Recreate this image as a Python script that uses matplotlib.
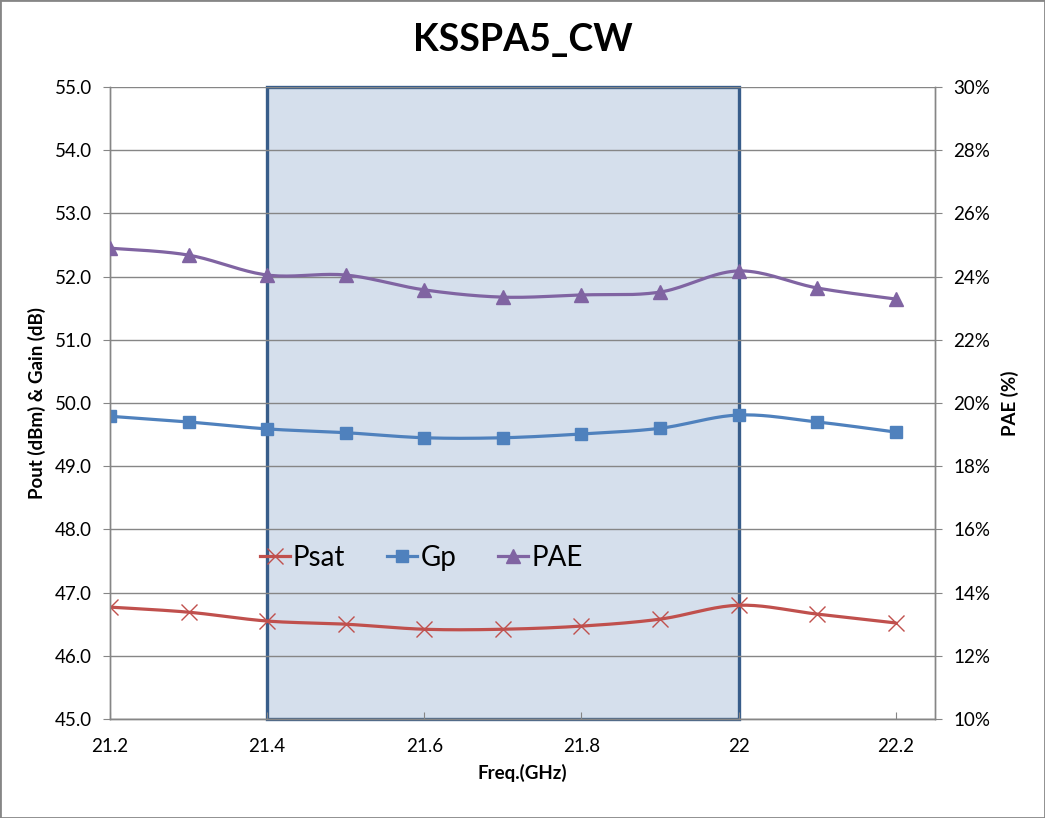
import numpy as np
import matplotlib
matplotlib.use("Agg")
import matplotlib.pyplot as plt
from matplotlib.patches import Rectangle
from matplotlib.lines import Line2D

freq = [21.2, 21.3, 21.4, 21.5, 21.6, 21.7, 21.8, 21.9, 22.0, 22.1, 22.2]
psat = [46.77, 46.69, 46.55, 46.50, 46.42, 46.42, 46.47, 46.58, 46.80, 46.66, 46.52]
gp = [49.79, 49.70, 49.59, 49.53, 49.45, 49.45, 49.51, 49.60, 49.81, 49.70, 49.54]
pae = [24.90, 24.68, 24.05, 24.05, 23.58, 23.35, 23.42, 23.51, 24.18, 23.64, 23.29]
band = (21.4, 22.0)
xticks = [21.2, 21.4, 21.6, 21.8, 22.0, 22.2]
xticklabels = ["21.2", "21.4", "21.6", "21.8", "22", "22.2"]

FONT = "Lato"
plt.rcParams["font.family"] = [FONT, "DejaVu Sans"]
GRID = "#868686"
RED, BLUE, PURPLE = "#C0504D", "#4F81BD", "#8064A2"


def smooth(xs, ys, n=20):
    """Catmull-Rom curve through the points, roughly like Excel's smoothed line."""
    p = np.column_stack([xs, ys]).astype(float)
    p = np.vstack([p[0], p, p[-1]])
    out = []
    t = np.linspace(0, 1, n, endpoint=False)[:, None]
    for i in range(1, len(p) - 2):
        p0, p1, p2, p3 = p[i - 1], p[i], p[i + 1], p[i + 2]
        out.append(0.5 * ((2 * p1) + (-p0 + p2) * t + (2 * p0 - 5 * p1 + 4 * p2 - p3) * t ** 2
                          + (-p0 + 3 * p1 - 3 * p2 + p3) * t ** 3))
    out.append(p[-2][None, :])
    out = np.vstack(out)
    return out[:, 0], out[:, 1]


fig = plt.figure(figsize=(10.45, 8.18), dpi=100)
ax = fig.add_axes([110 / 1045, 1 - 719 / 818, 825 / 1045, 632 / 818])
ax2 = ax.twinx()

ax.add_patch(Rectangle((band[0], 45), band[1] - band[0], 10, facecolor="#D5DFEC",
                       edgecolor="#385D8A", lw=2.4, zorder=0.5, clip_on=False))

for ys, col, mk, ms, mew, a in [(psat, RED, "x", 12, 1.0, ax), (gp, BLUE, "s", 9, 1, ax),
                                (pae, PURPLE, "^", 10, 1, ax2)]:
    sx, sy = smooth(freq, ys)
    a.plot(sx, sy, color=col, lw=2.3, zorder=3, solid_capstyle="round")
    a.plot(freq, ys, ls="none", marker=mk, ms=ms, color=col, mec=col, mew=mew, zorder=4)

ax.set_xlim(21.2, 22.25)
ax.set_ylim(45, 55)
ax2.set_ylim(10, 30)
ax.set_yticks(np.arange(45, 55.1, 1))
ax.set_yticklabels([f"{v:.1f}" for v in np.arange(45, 55.1, 1)])
ax2.set_yticks(np.arange(10, 30.1, 2))
ax2.set_yticklabels([f"{int(v)}%" for v in np.arange(10, 30.1, 2)])
ax.set_xticks(xticks)
ax.set_xticklabels(xticklabels)
ax.grid(axis="y", color=GRID, lw=1.0)
ax.set_axisbelow("line")

for a in (ax, ax2):
    a.spines["top"].set_visible(False)
    for s in ("left", "right", "bottom"):
        a.spines[s].set_color(GRID)
        a.spines[s].set_linewidth(1.0)
ax.tick_params(axis="x", direction="in", length=5, color=GRID, labelsize=13.5, pad=14)
ax.tick_params(axis="y", direction="out", length=5, color=GRID, labelsize=13.5, pad=8)
ax2.tick_params(axis="y", direction="out", length=5, color=GRID, labelsize=13.5, pad=8)

ax.set_xlabel("Freq.(GHz)", fontsize=13.5, fontweight="bold", labelpad=6)
ax.set_ylabel("Pout (dBm) & Gain (dB)", fontsize=13.5, fontweight="bold", labelpad=6)
ax2.set_ylabel("PAE (%)", fontsize=13.5, fontweight="bold", labelpad=8)
fig.text(0.5, 1 - 40 / 818, "KSSPA5_CW", ha="center", va="center", fontsize=27,
         fontweight="bold")

handles = [Line2D([], [], color=RED, lw=2.3, marker="x", ms=12, mew=1.0),
           Line2D([], [], color=BLUE, lw=2.3, marker="s", ms=9),
           Line2D([], [], color=PURPLE, lw=2.3, marker="^", ms=10)]
ax2.legend(handles, ["Psat", "Gp", "PAE"], loc="center", ncol=3, frameon=False,
           bbox_to_anchor=(0.377, 1 - (558 - 87) / 632), fontsize=20, handlelength=1.1,
           handletextpad=0.1, columnspacing=1.5)

fig.add_artist(Rectangle((0, 0), 1, 1, transform=fig.transFigure, fill=False,
                         edgecolor=GRID, lw=2))
fig.savefig("out.png", dpi=100)
